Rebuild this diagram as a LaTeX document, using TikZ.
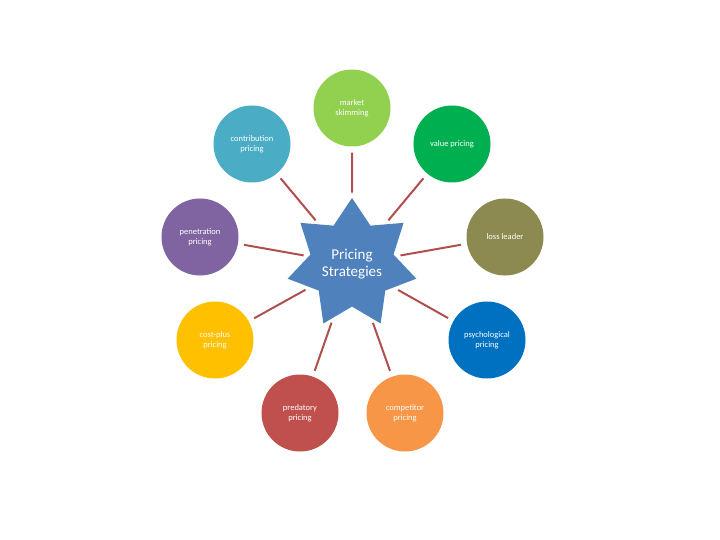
\documentclass[tikz,border=0pt]{standalone}
\usepackage{fontspec}
\setmainfont{Carlito}
\usetikzlibrary{shapes.geometric}
\begin{document}
\begin{tikzpicture}[x=1pt,y=-1pt,
  circ/.style={circle,minimum size=77pt,inner sep=0pt,text=white,align=center,font=\fontsize{8.5}{10}\selectfont},
  conn/.style={draw=red!45!black!60!red!80,line width=2pt,shorten <=6pt,shorten >=5pt}]
\useasboundingbox (0,0) rectangle (720,540);
\definecolor{lc}{HTML}{B0504D}
\node[star,star points=7,star point ratio=1.55,minimum size=132pt,inner sep=0pt,fill={rgb,255:red,79;green,129;blue,189},text=white,align=center,font=\fontsize{15}{17}\selectfont] (c) at (352,264) {Pricing\\Strategies};
\node[circ,fill={rgb,255:red,146;green,208;blue,80}] (a) at (352,108) {market\\skimming};
\node[circ,fill={rgb,255:red,75;green,172;blue,198}] (b) at (252,144) {contribution\\pricing};
\node[circ,fill={rgb,255:red,0;green,176;blue,80}] (v) at (452,144) {value pricing};
\node[circ,fill={rgb,255:red,128;green,100;blue,162}] (p) at (200,237) {penetration\\pricing};
\node[circ,fill={rgb,255:red,140;green,138;blue,80}] (l) at (505,237) {loss leader};
\node[circ,fill={rgb,255:red,255;green,192;blue,0}] (cp) at (215,340) {cost-plus\\pricing};
\node[circ,fill={rgb,255:red,0;green,112;blue,192}] (ps) at (487,340) {psychological\\pricing};
\node[circ,fill={rgb,255:red,192;green,80;blue,77}] (pr) at (300,413) {predatory\\pricing};
\node[circ,fill={rgb,255:red,247;green,150;blue,70}] (co) at (405,413) {competitor\\pricing};
\foreach \n in {a,b,v,p,l,cp,ps,pr,co}
  \draw[conn,draw=lc] (\n) -- (c);
\end{tikzpicture}
\end{document}
